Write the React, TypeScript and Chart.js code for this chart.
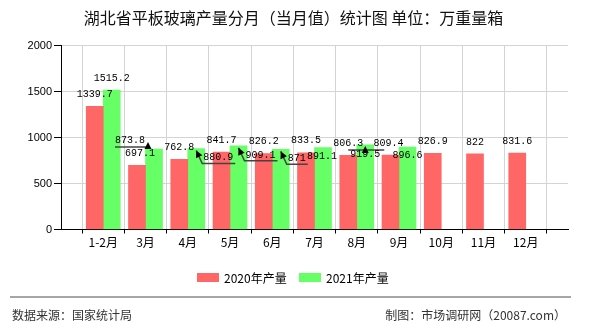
import React, { useEffect, useRef } from "react";
import { Chart, registerables } from "chart.js";

Chart.register(...registerables);

const categories = ["1-2月", "3月", "4月", "5月", "6月", "7月", "8月", "9月", "10月", "11月", "12月"];
const values2020 = [1339.7, 697.1, 762.8, 841.7, 826.2, 833.5, 806.3, 809.4, 826.9, 822, 831.6];
const values2021 = [1515.2, 873.8, 880.9, 909.1, 871, 891.1, 919.5, 896.6];
const seriesNames = ["2020年产量", "2021年产量"];
const yMin = 0;
const yMax = 2000;
const yStep = 500;
const titleText = "湖北省平板玻璃产量分月（当月值）统计图 单位：万重量箱";
const sourceText = "数据来源：国家统计局";
const creditText = "制图：市场调研网（20087.com）";

// label placement tweaks (pixel offsets from default above-bar position) to avoid overlap
const labelShift2020: number[][] = [[0, 0], [3, 0], [0, 0], [0, 0], [0, 0], [0, 0], [0, 0], [-2, 0], [0, 0], [0, 0], [0, 0]];
const labelShift2021: number[][] = [[0, 0], [-24, 3], [22, 21], [22, 21], [16, 21], [-1, 21], [0, 21], [0, 20]];
const leader2020: string[] = ["", "", "", "", "", "", "", "", "", "", ""];
const leader2021: string[] = ["", "under", "diag", "diag", "diag", "", "over", ""];

const RED = "#FF6666";
const GREEN = "#66FF66";

function arrow(ctx: CanvasRenderingContext2D, fx: number, fy: number, tx: number, ty: number) {
  const ang = Math.atan2(ty - fy, tx - fx);
  const len = 7;
  const hw = 3.5;
  const bx = tx - len * Math.cos(ang);
  const by = ty - len * Math.sin(ang);
  ctx.beginPath();
  ctx.moveTo(tx, ty);
  ctx.lineTo(bx + hw * Math.sin(ang), by - hw * Math.cos(ang));
  ctx.lineTo(bx - hw * Math.sin(ang), by + hw * Math.cos(ang));
  ctx.closePath();
  ctx.fillStyle = "#000";
  ctx.fill();
}

const decorPlugin = {
  id: "decor",
  afterDatasetsDraw(chart: any) {
    const ctx: CanvasRenderingContext2D = chart.ctx;
    const shifts = [labelShift2020, labelShift2021];
    const leaders = [leader2020, leader2021];
    ctx.save();
    ctx.font = '10px "Liberation Mono"';
    chart.data.datasets.forEach((ds: any, di: number) => {
      const meta = chart.getDatasetMeta(di);
      meta.data.forEach((el: any, j: number) => {
        const v = ds.data[j];
        if (v === null || v === undefined) return;
        const idx = j - 1;
        const sh = (shifts[di][idx] || [0, 0]);
        const cx = el.x + sh[0];
        const cy = el.y - 12 + sh[1];
        const txt = String(v);
        const w = ctx.measureText(txt).width;
        const left = cx - w / 2;
        const right = cx + w / 2;
        const kind = leaders[di][idx] || "";
        ctx.strokeStyle = "#444";
        ctx.lineWidth = 1.5;
        if (kind === "diag") {
          const tipX = el.x;
          const tipY = el.y + 2;
          ctx.beginPath();
          ctx.moveTo(tipX, tipY);
          ctx.lineTo(left - 1, cy + 6);
          ctx.lineTo(right + 2, cy + 6);
          ctx.stroke();
          arrow(ctx, left - 1, cy + 6, tipX, tipY);
        } else if (kind === "under") {
          const ax = el.x - 6;
          ctx.beginPath();
          ctx.moveTo(left, cy + 7);
          ctx.lineTo(ax, cy + 7);
          ctx.stroke();
          arrow(ctx, ax, cy + 9, ax, cy + 2);
        } else if (kind === "over") {
          ctx.beginPath();
          ctx.moveTo(left - 2, el.y + 5);
          ctx.lineTo(right + 4, el.y + 5);
          ctx.stroke();
          arrow(ctx, el.x, el.y + 7, el.x, el.y + 1);
        }
        ctx.fillStyle = "#000";
        ctx.textAlign = "center";
        ctx.textBaseline = "middle";
        ctx.fillText(txt, cx, cy);
      });
    });
    ctx.restore();
  },
  afterDraw(chart: any) {
    const ctx: CanvasRenderingContext2D = chart.ctx;
    ctx.save();
    // title
    ctx.fillStyle = "#111";
    ctx.font = '16px "Noto Sans CJK SC"';
    ctx.textAlign = "center";
    ctx.textBaseline = "middle";
    ctx.fillText(titleText, 293.5, 17.5);
    // legend
    const colors = [RED, GREEN];
    const boxX = [197, 299];
    ctx.font = '12px "Noto Sans CJK SC"';
    ctx.textAlign = "left";
    seriesNames.forEach((n, i) => {
      ctx.fillStyle = colors[i];
      ctx.fillRect(boxX[i], 273, 22, 9);
      ctx.fillStyle = "#000";
      ctx.fillText(n, boxX[i] + 27, 278);
    });
    // footer
    ctx.strokeStyle = "#888";
    ctx.lineWidth = 1.5;
    ctx.beginPath();
    ctx.moveTo(10, 297);
    ctx.lineTo(571, 297);
    ctx.stroke();
    ctx.fillStyle = "#333";
    ctx.font = '12px "Noto Sans CJK SC"';
    ctx.textAlign = "left";
    ctx.fillText(sourceText, 12, 315);
    ctx.textAlign = "right";
    ctx.fillText(creditText, 566, 315);
    ctx.restore();
  },
};

export default function App() {
  const ref = useRef<HTMLCanvasElement | null>(null);
  useEffect(() => {
    if (!ref.current) return;
    const labels = ["", ...categories, ""];
    const pad = (arr: number[]) => {
      const out: (number | null)[] = [null];
      for (let i = 0; i < categories.length; i++) out.push(i < arr.length ? arr[i] : null);
      out.push(null);
      return out;
    };
    const chart = new Chart(ref.current, {
      type: "bar",
      data: {
        labels,
        datasets: [
          { label: seriesNames[0], data: pad(values2020), backgroundColor: RED, barThickness: 17 },
          { label: seriesNames[1], data: pad(values2021), backgroundColor: GREEN, barThickness: 17 },
        ],
      },
      options: {
        animation: false,
        responsive: false,
        devicePixelRatio: 1,
        layout: { padding: { left: 0, right: 22, top: 45.5, bottom: 70.5 } },
        plugins: { legend: { display: false }, tooltip: { enabled: false }, title: { display: false } },
        scales: {
          x: {
            offset: false,
            grid: { color: "#d4d4d4", tickColor: "#000", tickLength: 4, lineWidth: 1 },
            border: { color: "#000", width: 1 },
            ticks: { color: "#000", padding: 2, autoSkip: false, maxRotation: 0, font: { family: "Noto Sans CJK SC", size: 12 } },
            afterFit: (s: any) => { s.height = 30; },
          },
          y: {
            min: yMin,
            max: yMax,
            grid: { color: "#d4d4d4", tickColor: "#000", tickLength: 7 },
            border: { color: "#000", width: 1 },
            ticks: {
              stepSize: yStep,
              color: "#000",
              padding: 2,
              font: { family: "Liberation Sans", size: 11 },
              callback: (v: any) => String(v),
            },
            afterFit: (s: any) => { s.width = 61; },
          },
        },
      },
      plugins: [decorPlugin],
    } as any);
    return () => chart.destroy();
  }, []);
  return (
    <div style={{ position: "absolute", left: 0, top: 0, width: 590, height: 330, background: "#fff" }}>
      <canvas ref={ref} width={590} height={330} />
    </div>
  );
}
